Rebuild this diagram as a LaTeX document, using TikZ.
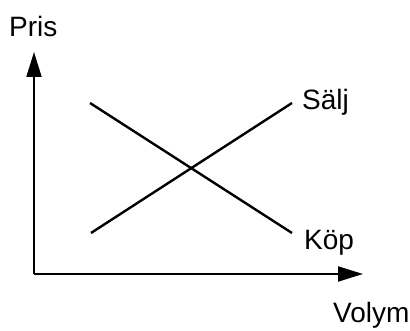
\documentclass[tikz,border=0pt]{standalone}
\usepackage{fontspec}
\setmainfont{Liberation Sans}
\usetikzlibrary{arrows.meta}
\tikzset{
  axisline/.style={line width=2pt,-{Triangle[length=25pt,width=15pt]}},
  curveline/.style={line width=2.4pt},
  axislabel/.style={font=\fontsize{28}{30}\selectfont,anchor=base west,inner sep=0pt}
}

\begin{document}
\begin{tikzpicture}[x=1pt,y=1pt]
  \useasboundingbox (0,0) rectangle (410,331);
  % Axes
  \coordinate (origin) at (34,57);
  \coordinate (ytip) at (34,279);
  \coordinate (xtip) at (363,57);
  \draw[axisline] (origin) -- (ytip);
  \draw[axisline] (origin) -- (xtip);
  % Supply and demand
  \coordinate (saljstart) at (91,98);
  \coordinate (saljend) at (292,228);
  \coordinate (kopstart) at (90,228);
  \coordinate (kopend) at (292,98);
  \draw[curveline] (saljstart) -- (saljend);
  \draw[curveline] (kopstart) -- (kopend);
  % Labels
  \node[axislabel] (pris) at (9,294) {Pris};
  \node[axislabel] (volym) at (333,8) {Volym};
  \node[axislabel] (salj) at (302,221) {Sälj};
  \node[axislabel] (kop) at (304,81) {Köp};
\end{tikzpicture}
\end{document}
